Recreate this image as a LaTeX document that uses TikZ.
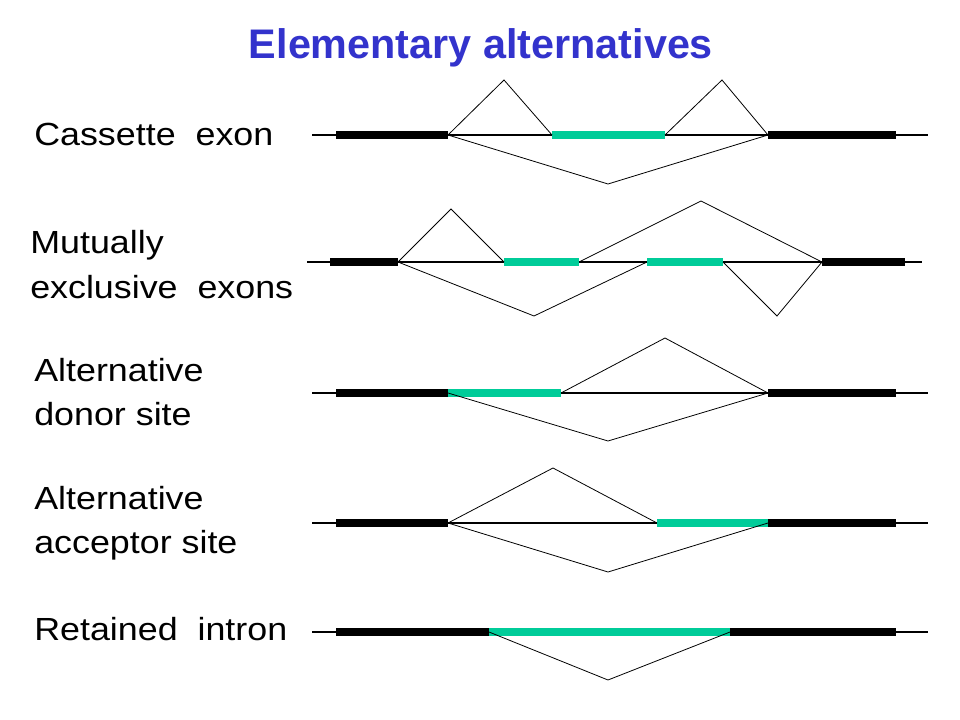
\documentclass[tikz,border=0pt]{standalone}
\usepackage{fontspec}
\setmainfont{Liberation Sans}
\newfontfamily\labelfont[FakeStretch=1.12]{Liberation Sans}
\definecolor{titleblue}{HTML}{3333CC}
\definecolor{altgreen}{HTML}{00CC99}
\tikzset{
  backbone/.style={line width=0.9pt},
  splice/.style={line width=0.6pt},
  exon/.style={line width=6pt},
  altexon/.style={line width=6pt, altgreen},
  rowlabel/.style={anchor=base west, inner sep=0pt, align=left,
    font=\labelfont\fontsize{24}{33}\selectfont}
}
\begin{document}
\begin{tikzpicture}[x=0.75pt, y=-0.75pt]
  \useasboundingbox (0,0) rectangle (960,720);
  % title
  \node[anchor=base, inner sep=0pt, titleblue, font=\bfseries\fontsize{31}{36}\selectfont]
    (title) at (481,59) {Elementary alternatives};
  % row labels (base of two-line labels is on the last line)
  \node[rowlabel] (lcas) at (34,146) {Cassette\ \ exon};
  \node[rowlabel] (lmut) at (30,298) {Mutually\\exclusive\ \ exons};
  \node[rowlabel] (ldon) at (34,425) {Alternative\\donor site};
  \node[rowlabel] (lacc) at (34,553) {Alternative\\acceptor site};
  \node[rowlabel] (lret) at (34,640) {Retained\ \ intron};
  % backbones
  \foreach \y in {135,393,523,632}
    {\draw[backbone] (312,\y) -- (928,\y);}
  \draw[backbone] (307,262) -- (922,262);
  % cassette exon
  \coordinate (c1) at (448,135); \coordinate (c2) at (552,135);
  \coordinate (c3) at (665,135); \coordinate (c4) at (768,135);
  \draw[exon] (336,135) -- (c1);
  \draw[altexon] (c2) -- (c3);
  \draw[exon] (c4) -- (896,135);
  \draw[splice] (c1) -- (504,80) -- (c2);
  \draw[splice] (c3) -- (722,80) -- (c4);
  \draw[splice] (c1) -- (608,184) -- (c4);
  % mutually exclusive exons
  \coordinate (m1) at (398,262); \coordinate (m2) at (504,262);
  \coordinate (m3) at (579,262); \coordinate (m4) at (647,262);
  \coordinate (m5) at (723,262); \coordinate (m6) at (822,262);
  \draw[exon] (330,262) -- (m1);
  \draw[altexon] (m2) -- (m3);
  \draw[altexon] (m4) -- (m5);
  \draw[exon] (m6) -- (905,262);
  \draw[splice] (m1) -- (451,209) -- (m2);
  \draw[splice] (m1) -- (534,316) -- (m4);
  \draw[splice] (m3) -- (701,201) -- (m6);
  \draw[splice] (m5) -- (777,316) -- (m6);
  % alternative donor site
  \coordinate (d1) at (448,393); \coordinate (d2) at (561,393);
  \coordinate (d3) at (768,393);
  \draw[exon] (336,393) -- (d1);
  \draw[altexon] (d1) -- (d2);
  \draw[exon] (d3) -- (896,393);
  \draw[splice] (d2) -- (665,338) -- (d3);
  \draw[splice] (d1) -- (608,441) -- (d3);
  % alternative acceptor site
  \coordinate (a1) at (448,523); \coordinate (a2) at (657,523);
  \coordinate (a3) at (768,523);
  \draw[exon] (336,523) -- (a1);
  \draw[altexon] (a2) -- (a3);
  \draw[exon] (a3) -- (896,523);
  \draw[splice] (a1) -- (553,468) -- (a2);
  \draw[splice] (a1) -- (608,572) -- (a3);
  % retained intron
  \coordinate (r1) at (489,632); \coordinate (r2) at (730,632);
  \draw[exon] (336,632) -- (r1);
  \draw[altexon] (r1) -- (r2);
  \draw[exon] (r2) -- (896,632);
  \draw[splice] (r1) -- (608,680) -- (r2);
\end{tikzpicture}
\end{document}
